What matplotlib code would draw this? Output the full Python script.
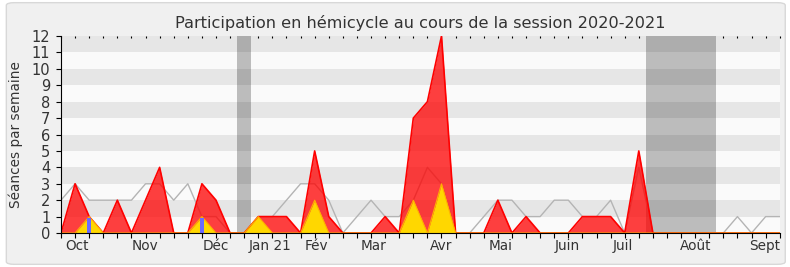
import numpy as np
import matplotlib
matplotlib.use("Agg")
import matplotlib.pyplot as plt
from matplotlib.patches import FancyBboxPatch

# weekly counts, session 2020-2021 (one value per week)
presences = [0, 3, 1, 0, 2, 0, 2, 4, 0, 0, 3, 2, 0, 0, 1, 1, 1, 0, 5, 1, 0, 0, 0, 1, 0, 7,
             8, 12, 0, 0, 0, 2, 0, 1, 0, 0, 0, 1, 1, 1, 0, 5, 0, 0, 0, 0, 0, 0, 0, 0, 0, 0]
interventions = [0, 0, 1, 0, 0, 0, 0, 0, 0, 0, 1, 0, 0, 0, 1, 0, 0, 0, 2, 0, 0, 0, 0, 0, 0, 2,
                 0, 3, 0, 0, 0, 0, 0, 0, 0, 0, 0, 0, 0, 0, 0, 0, 0, 0, 0, 0, 0, 0, 0, 0, 0, 0]
mediane = [2, 3, 2, 2, 2, 2, 3, 3, 2, 3, 1, 1, 0, 0, 1, 1, 2, 3, 3, 2, 0, 1, 2, 1, 1, 2,
           4, 3, 0, 0, 1, 2, 2, 1, 1, 2, 2, 1, 1, 2, 0, 4, 0, 0, 0, 0, 0, 0, 1, 0, 1, 1]
questions_sem = [2, 10]
questions_val = [0.9, 0.9]
vacances = [(12.5, 13.5), (41.5, 46.5)]
mois = ["Oct", "Nov", "Déc", "Jan 21", "Fév", "Mar", "Avr", "Mai", "Juin", "Juil", "Août", "Sept"]
mois_pos = [1.15, 5.94, 10.98, 14.85, 18.15, 22.17, 26.95, 31.2, 35.96, 39.9, 45.0, 49.9]

semaines = np.arange(len(presences))

fig = plt.figure(figsize=(7.9, 2.67), dpi=100, facecolor="white")
fig.patches.append(FancyBboxPatch((0.008, 0.01), 0.986, 0.98, boxstyle="round,pad=0,rounding_size=0.01",
                                  transform=fig.transFigure, facecolor="#f0f0f0",
                                  edgecolor="#d8d8d8", linewidth=1, zorder=-10))
ax = fig.add_axes([0.0772, 0.1273, 0.9098, 0.7377])
ax.set_facecolor("#fafafa")

for a, b in vacances:
    ax.axvspan(a, b, color="#bcbcbc", zorder=0.5, lw=0)
for y0 in range(1, 12, 2):
    ax.axhspan(y0, y0 + 1, color="black", alpha=0.08, lw=0, zorder=0.6)

ax.plot(semaines, mediane, color="#b4b4b4", lw=1, zorder=1.5)
ax.fill_between(semaines, presences, color="#ff0000", alpha=0.75, lw=0, zorder=2)
ax.plot(semaines, presences, color="#ff0000", lw=1.2, zorder=2.1)
ax.fill_between(semaines, interventions, color="#ffd700", lw=0, zorder=3)
ax.plot(semaines, interventions, color="#ffb000", lw=0.8, zorder=3.1)
ax.bar(questions_sem, questions_val, width=0.28, color="#6b6bff", zorder=4)

ax.set_xlim(0, 51)
ax.set_ylim(0, 12)
ax.set_yticks(range(13))
ax.xaxis.remove_overlapping_locs = False
ax.set_xticks(semaines)
ax.set_xticklabels([])
ax.set_xticks(mois_pos, mois, minor=True)
ax.tick_params(axis="x", which="major", length=3.6, color="black")
ax.tick_params(axis="x", which="minor", length=0, pad=4.2, labelsize=9.8, labelcolor="#333333")
ax.tick_params(axis="y", length=3.6, pad=4, labelsize=10.5, labelcolor="#333333")

top = ax.secondary_xaxis("top")
top.set_xticks(semaines)
top.set_xticklabels([])
top.tick_params(length=1.5, direction="in", color="black")
top.spines["top"].set_visible(False)

for s in ["top", "right"]:
    ax.spines[s].set_visible(False)
for s in ["left", "bottom"]:
    ax.spines[s].set_color("black")
    ax.spines[s].set_zorder(10)

ax.set_ylabel("Séances par semaine", fontsize=9.8, color="#333333", labelpad=6)
ax.set_title("Participation en hémicycle au cours de la session 2020-2021", fontsize=11.6,
             color="#333333", pad=6)

fig.savefig("out.png", dpi=100, facecolor=fig.get_facecolor())
